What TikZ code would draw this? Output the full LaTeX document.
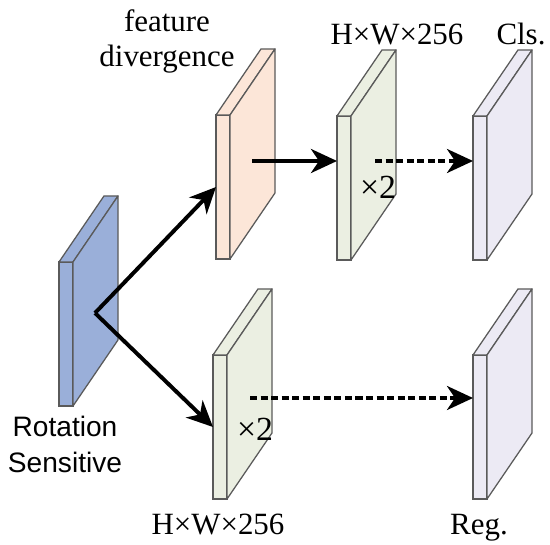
\documentclass[tikz,border=0pt]{standalone}
\usepackage{fontspec}
\setmainfont{Liberation Serif}
\newfontfamily\arialfont{Liberation Sans}
\usetikzlibrary{arrows.meta,positioning}
\definecolor{rsblue}{HTML}{9AAFD9}
\definecolor{fdorange}{HTML}{FCE6D8}
\definecolor{convgreen}{HTML}{EBEFE2}
\definecolor{outlilac}{HTML}{ECEAF4}
\definecolor{edgegray}{HTML}{5A5A5A}
\tikzset{
  slab/.style={draw=edgegray,line width=0.9pt,inner sep=0pt,outer sep=0pt,
               minimum width=0.35cm,minimum height=3.6cm},
  slabskin/.style={draw=edgegray,line width=0.9pt,line join=round},
  mainarr/.style={-{Stealth[length=6.5mm,width=6mm,inset=2mm]},line width=2.8pt},
  dasharr/.style={-{Stealth[length=6.5mm,width=6mm,inset=2mm]},line width=2.6pt,
                  dash pattern=on 5pt off 2.5pt},
  lbl/.style={font=\fontsize{22}{25}\selectfont,inner sep=0pt},
  rslbl/.style={font=\arialfont\fontsize{20}{25}\selectfont,inner sep=0pt},
  repl/.style={font=\fontsize{24}{26}\selectfont,inner sep=0pt},
}
% top and side faces behind the front face of a slab
\newcommand{\slabfaces}[2]{%
  \draw[slabskin,fill=#2] (#1.north west) -- ++(45,-66) -- ++(14,0) -- (#1.north east) -- cycle;
  \draw[slabskin,fill=#2] (#1.north east) -- ++(45,-66) -- ++(0,144) -- (#1.south east) -- cycle;
}

\begin{document}
\begin{tikzpicture}[x=0.025cm,y=-0.025cm]
  \useasboundingbox (0,0) rectangle (550,544);
  % feature maps
  \node[slab,fill=rsblue]     (rsMap)   at (66,334) {};
  \node[slab,fill=fdorange]   (fdMap)   at (223,187) {};
  \node[slab,fill=convgreen]  (clsConv) at (344,188) {};
  \node[slab,fill=outlilac]   (clsOut)  at (480,188) {};
  \node[slab,fill=convgreen]  (regConv) at (220,427) {};
  \node[slab,fill=outlilac]   (regOut)  at (480,427) {};
  \slabfaces{rsMap}{rsblue}
  \slabfaces{fdMap}{fdorange}
  \slabfaces{clsConv}{convgreen}
  \slabfaces{clsOut}{outlilac}
  \slabfaces{regConv}{convgreen}
  \slabfaces{regOut}{outlilac}
  % arrow starts
  \coordinate (split) at (95,313);
  \coordinate (fdOut) at (252,161);
  \coordinate (clsMid) at (375,161);
  \coordinate (regMid) at (250,398);
  % branches
  \draw[mainarr] (split) -- (fdMap.west);
  \draw[mainarr] (split) -- (regConv.west);
  \draw[mainarr] (fdOut) -- (fdOut -| clsConv.west);
  \draw[dasharr] (clsMid) -- (clsMid -| clsOut.west);
  \draw[dasharr] (regMid) -- (regMid -| regOut.west);
  % labels
  \node[repl,anchor=base] (clsRep) at (378,198) {×2};
  \node[repl,anchor=base] (regRep) at (255,440) {×2};
  \node[lbl,anchor=base,align=center] (fdLbl) at (167,67) {feature\\divergence};
  \node[lbl,anchor=base] (clsSize) at (397,45) {H×W×256};
  \node[lbl,anchor=base] (clsLbl)  at (521,45) {Cls.};
  \node[lbl,anchor=base] (regSize) at (218,534) {H×W×256};
  \node[lbl,anchor=base] (regLbl)  at (479,534) {Reg.};
  \node[rslbl,anchor=base,align=center] (rsLbl) at (65,472) {Rotation\\Sensitive};
\end{tikzpicture}
\end{document}
